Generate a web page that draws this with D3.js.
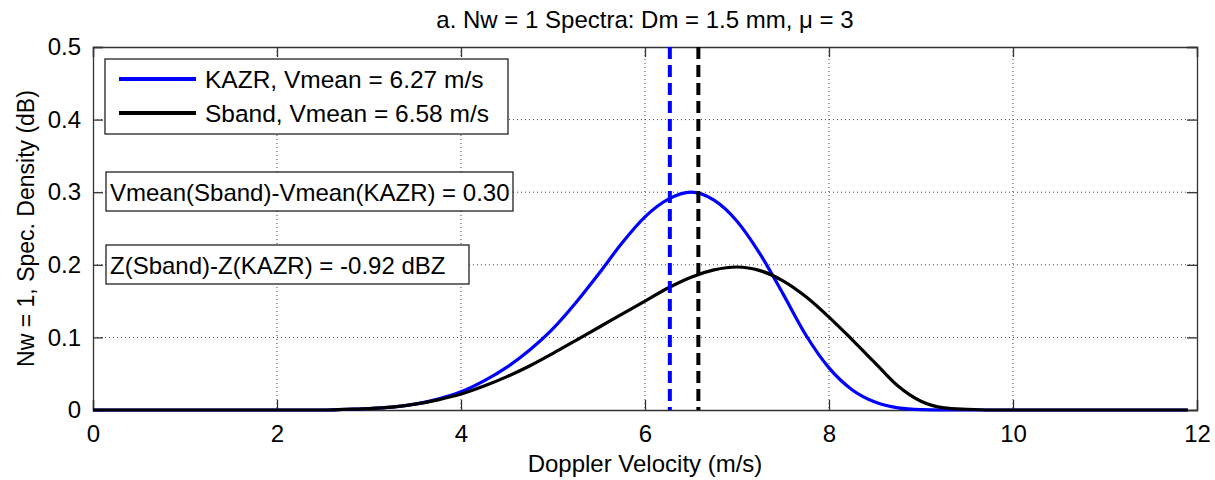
<!DOCTYPE html>
<html>
<head>
<meta charset="utf-8">
<script src="https://cdn.jsdelivr.net/npm/d3@7"></script>
<style>
  body { margin: 0; background: #fff; }
  svg text { font-family: "Liberation Sans", Arial, sans-serif; fill: #000; }
</style>
</head>
<body>
<div class="chart"></div>
<script>
// velocities (m/s) and spectral densities
const velocity = [0, 2.5, 2.75, 3.0, 3.25, 3.5, 3.75, 4.0, 4.25, 4.5, 4.75, 5.0, 5.25, 5.5, 5.75, 6.0, 6.25, 6.5, 6.75, 7.0, 7.25, 7.5, 7.75, 8.0, 8.25, 8.5, 8.75, 9.0, 9.25, 9.5, 9.75, 11.9];
const kazr  = [0, 0, 0.001, 0.002, 0.004, 0.008, 0.015, 0.025, 0.040, 0.059, 0.083, 0.112, 0.148, 0.188, 0.230, 0.266, 0.290, 0.300, 0.289, 0.260, 0.215, 0.160, 0.103, 0.058, 0.028, 0.011, 0.003, 0.0005, 0, 0, 0, 0];
const sband = [0, 0, 0.001, 0.002, 0.004, 0.008, 0.014, 0.022, 0.033, 0.046, 0.061, 0.078, 0.096, 0.114, 0.132, 0.150, 0.168, 0.183, 0.193, 0.197, 0.192, 0.178, 0.156, 0.128, 0.097, 0.065, 0.033, 0.012, 0.003, 0.001, 0, 0];
const vmeans = [6.27, 6.58];
const seriesNames = ["KAZR, Vmean = 6.27 m/s", "Sband, Vmean = 6.58 m/s"];
const colors = ["#0000ff", "#000000"];
const xTicks = [0, 2, 4, 6, 8, 10, 12];
const yTicks = [0, 0.1, 0.2, 0.3, 0.4, 0.5];
const notes = ["Vmean(Sband)-Vmean(KAZR) = 0.30", "Z(Sband)-Z(KAZR) = -0.92 dBZ"];

const margin = {top: 47, right: 18, bottom: 70, left: 93};
const width = 1215 - margin.left - margin.right;
const height = 480 - margin.top - margin.bottom;

const svg = d3.select('.chart').append('svg')
    .attr("width", 1215)
    .attr("height", 480)
  .append("g")
    .attr("transform", "translate(" + margin.left + "," + margin.top + ")");

const xScale = d3.scaleLinear().domain([0, 12]).range([0, width]);
const yScale = d3.scaleLinear().domain([0, 0.5]).range([height, 0]);

// dotted grid
svg.append("g").selectAll("line.vg")
    .data(xTicks.slice(1, -1))
    .enter().append("line")
    .attr("x1", d => xScale(d)).attr("x2", d => xScale(d))
    .attr("y1", 0).attr("y2", height)
    .attr("stroke", "#444").attr("stroke-width", 1)
    .attr("stroke-dasharray", "1,3");
svg.append("g").selectAll("line.hg")
    .data(yTicks.slice(1, -1))
    .enter().append("line")
    .attr("x1", 0).attr("x2", width)
    .attr("y1", d => yScale(d)).attr("y2", d => yScale(d))
    .attr("stroke", "#444").attr("stroke-width", 1)
    .attr("stroke-dasharray", "1,3");

// axes (matlab style: ticks pointing inwards on all four sides)
const xAxis = d3.axisBottom(xScale).tickValues(xTicks).tickFormat(d3.format("d")).tickSize(-10).tickPadding(10);
const yAxis = d3.axisLeft(yScale).tickValues(yTicks).tickFormat(d => d === 0 ? "0" : d3.format(".1f")(d)).tickSize(-10).tickPadding(10);

svg.append("g").attr("class", "x-axis").attr("transform", `translate(0, ${height})`).call(xAxis);
svg.append("g").attr("class", "y-axis").call(yAxis);
svg.append("g").attr("class", "x-top").call(d3.axisTop(xScale).tickValues(xTicks).tickSize(-10).tickFormat(""));
svg.append("g").attr("class", "y-right").attr("transform", `translate(${width}, 0)`)
    .call(d3.axisRight(yScale).tickValues(yTicks).tickSize(-10).tickFormat(""));

svg.selectAll(".domain").attr("stroke", "#333").attr("stroke-width", 1.3);
svg.selectAll(".tick line").attr("stroke", "#333").attr("stroke-width", 1.3);
svg.selectAll(".x-axis text, .y-axis text").attr("font-size", "24px").attr("fill", "#000");
svg.selectAll(".x-axis text").attr("dy", "0.9em");
svg.selectAll(".y-axis text").attr("dx", "-2");

// spectra
const series = [kazr, sband];
const line = d3.line()
    .x((d, i) => xScale(velocity[i]))
    .y(d => yScale(d))
    .curve(d3.curveMonotoneX);

series.forEach((s, k) => {
  svg.append("path")
      .datum(s)
      .attr("d", line)
      .attr("fill", "none")
      .attr("stroke", colors[k])
      .attr("stroke-width", 3.2);
});

// mean velocities
svg.selectAll("line.vmean")
    .data(vmeans)
    .enter().append("line")
    .attr("x1", d => xScale(d)).attr("x2", d => xScale(d))
    .attr("y1", 0).attr("y2", height)
    .attr("stroke", (d, i) => colors[i])
    .attr("stroke-width", 4)
    .attr("stroke-dasharray", "12,6");

// legend
const legend = svg.append("g").attr("transform", "translate(12, 12)");
legend.append("rect")
    .attr("width", 403).attr("height", 75)
    .attr("fill", "#fff").attr("stroke", "#222").attr("stroke-width", 1.3);
seriesNames.forEach((name, i) => {
  const yy = 20 + i * 34;
  legend.append("line")
      .attr("x1", 14).attr("x2", 91).attr("y1", yy).attr("y2", yy)
      .attr("stroke", colors[i]).attr("stroke-width", 4);
  legend.append("text")
      .attr("x", 100).attr("y", yy).attr("dy", "0.36em")
      .attr("font-size", "24.5px")
      .text(name);
});

// annotation boxes
const noteY = [125, 198];
const noteW = [407, 363];
notes.forEach((t, i) => {
  const g = svg.append("g").attr("transform", `translate(13, ${noteY[i]})`);
  g.append("rect")
      .attr("width", noteW[i]).attr("height", 39)
      .attr("fill", "#fff").attr("stroke", "#222").attr("stroke-width", 1.3);
  g.append("text")
      .attr("x", 4).attr("y", 20).attr("dy", "0.36em")
      .attr("font-size", "24px")
      .text(t);
});

// titles
svg.append("text")
    .attr("x", width / 2).attr("y", -19)
    .attr("text-anchor", "middle")
    .attr("font-size", "24px")
    .text("a. Nw = 1 Spectra: Dm = 1.5 mm, \u03BC = 3");

svg.append("text")
    .attr("x", width / 2).attr("y", height + 62)
    .attr("text-anchor", "middle")
    .attr("font-size", "24px")
    .text("Doppler Velocity (m/s)");

svg.append("text")
    .attr("transform", `translate(-59, ${height / 2}) rotate(-90)`)
    .attr("text-anchor", "middle")
    .attr("font-size", "23px")
    .text("Nw = 1, Spec. Density (dB)");
</script>
</body>
</html>
